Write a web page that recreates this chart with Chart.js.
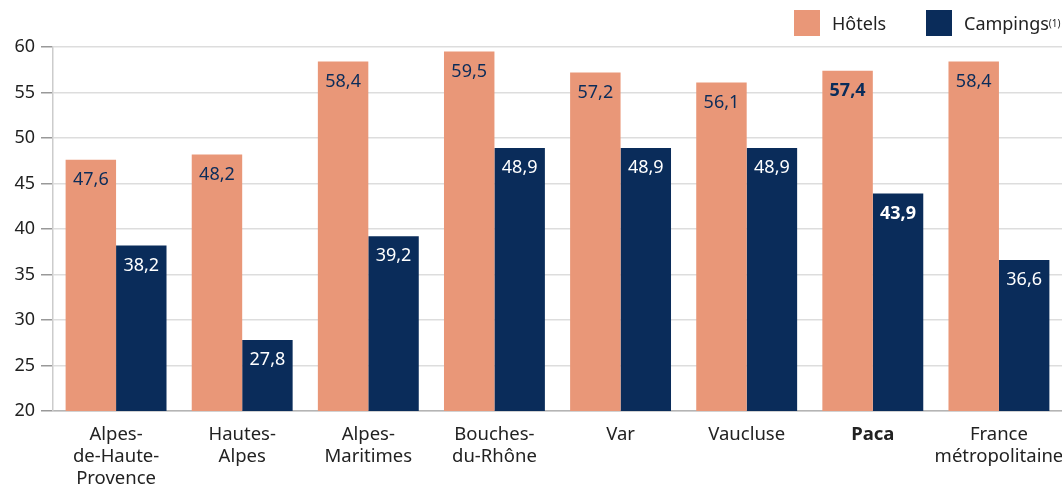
<!DOCTYPE html>
<html><head><meta charset="utf-8">
<script src="https://cdn.jsdelivr.net/npm/chart.js@4"></script>
<style>
html,body{margin:0;padding:0;background:#fff;}
#wrap{position:relative;width:1062px;height:484px;font-family:"Noto Sans",sans-serif;}
canvas{position:absolute;left:0;top:0;}
.leg{position:absolute;top:10px;height:26px;display:flex;align-items:center;font-size:18px;color:#222;}
.leg span.box{display:inline-block;width:26px;height:26px;margin-right:12px;}
.leg sup{font-size:10px;vertical-align:7px;}
</style></head>
<body><div id="wrap">
<canvas id="c" width="1062" height="484"></canvas>
<div class="leg" style="left:794px"><span class="box" style="background:#E99778"></span>Hôtels</div>
<div class="leg" style="left:926px"><span class="box" style="background:#0A2C5A"></span>Campings<sup>(1)</sup></div>
</div>
<script>
const categories = [["Alpes-","de-Haute-","Provence"],["Hautes-","Alpes"],["Alpes-","Maritimes"],["Bouches-","du-Rhône"],["Var"],["Vaucluse"],["Paca"],["France","métropolitaine"]];
const hotels = [47.6, 48.2, 58.4, 59.5, 57.2, 56.1, 57.4, 58.4];
const campings = [38.2, 27.8, 39.2, 48.9, 48.9, 48.9, 43.9, 36.6];
const boldIndex = 6;
const SALMON = "#E99778", NAVY = "#0A2C5A";

const labelPlugin = {
  id: "vals",
  afterDatasetsDraw(chart) {
    const ctx = chart.ctx;
    chart.data.datasets.forEach((ds, di) => {
      const meta = chart.getDatasetMeta(di);
      meta.data.forEach((bar, i) => {
        const v = ds.data[i];
        ctx.save();
        ctx.font = (i === boldIndex ? "bold " : "") + "18px 'Noto Sans'";
        ctx.fillStyle = di === 0 ? NAVY : "#fff";
        ctx.textAlign = "center";
        ctx.textBaseline = "middle";
        ctx.fillText(v.toFixed(1).replace(".", ","), bar.x, bar.y + 20);
        ctx.restore();
      });
    });
  }
};

new Chart(document.getElementById("c"), {
  type: "bar",
  data: {
    labels: categories,
    datasets: [
      { label: "Hôtels", data: hotels, backgroundColor: SALMON },
      { label: "Campings", data: campings, backgroundColor: NAVY }
    ]
  },
  options: {
    responsive: false,
    animation: false,
    layout: { padding: { top: 47, right: 0, left: 6, bottom: 0 } },
    plugins: { legend: { display: false }, tooltip: { enabled: false } },
    datasets: { bar: { categoryPercentage: 0.8, barPercentage: 1.0 } },
    scales: {
      x: {
        grid: { display: false, drawTicks: false },
        border: { display: true, color: "#b5b5b5", width: 1.5 },
        ticks: {
          color: "#222",
          font: (c) => ({ family: "Noto Sans", size: 18.5, weight: c.index === boldIndex ? "bold" : "normal", lineHeight: "22px" }),
          padding: 13,
          maxRotation: 0, autoSkip: false
        },
        afterFit: (scale) => { scale.height = 73; scale.paddingRight = 0; scale.paddingLeft = 0; }
      },
      y: {
        min: 20, max: 60,
        ticks: { stepSize: 5, color: "#222", font: { family: "Noto Sans", size: 18 }, padding: 6 },
        grid: { color: "#dddddd", lineWidth: 1.5, tickLength: 12, tickColor: "#999" },
        border: { display: true, color: "#cccccc", width: 1.5 },
        afterFit: (scale) => { scale.width = 47; }
      }
    }
  },
  plugins: [labelPlugin]
});
</script>
</body></html>
